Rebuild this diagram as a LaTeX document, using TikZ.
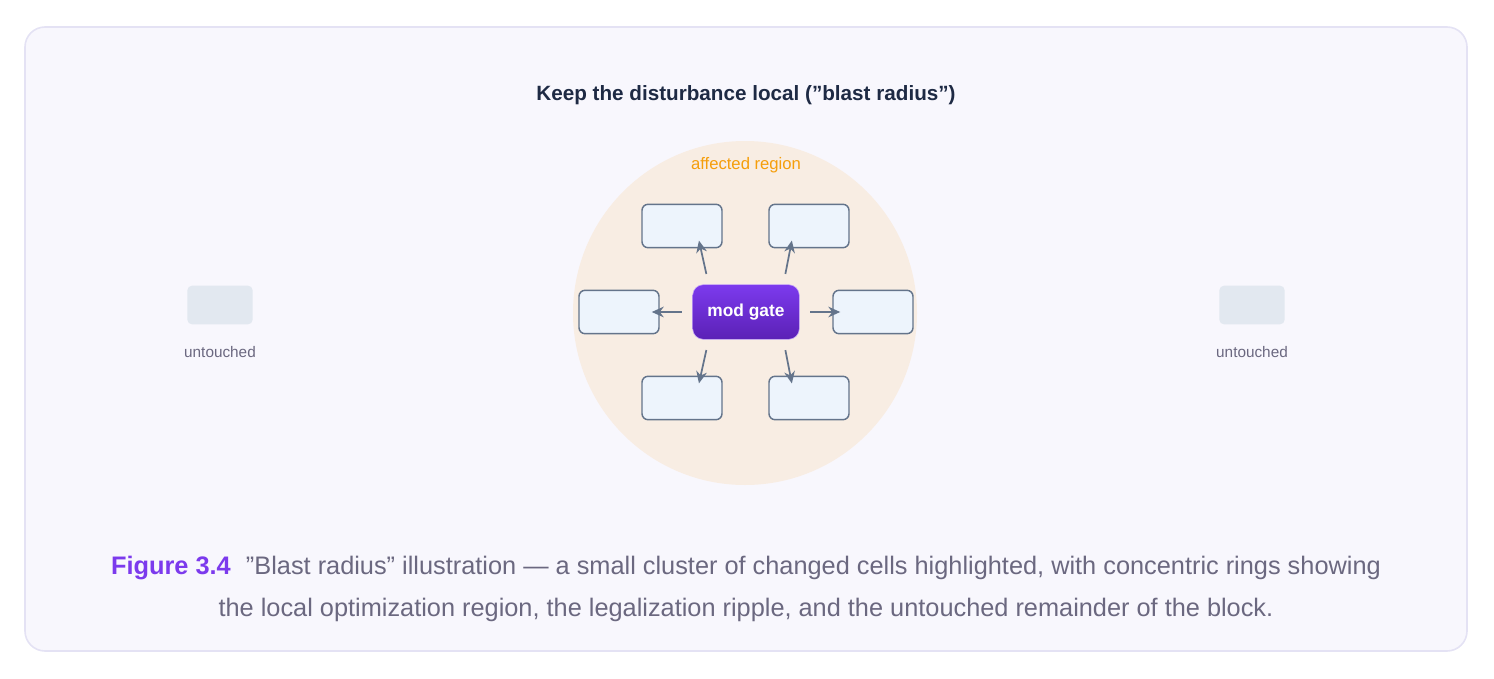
\documentclass[tikz,border=0pt]{standalone}
\usepackage{fontspec}
\setmainfont{Liberation Sans}
\usetikzlibrary{positioning,arrows.meta}
\definecolor{framebg}{HTML}{F8F7FD}
\definecolor{frameline}{HTML}{E4E2F4}
\definecolor{titlecol}{HTML}{1E2A44}
\definecolor{blastfill}{HTML}{F8EDE3}
\definecolor{orangecol}{HTML}{F59E0B}
\definecolor{cellfill}{HTML}{EDF4FC}
\definecolor{cellline}{HTML}{64748B}
\definecolor{gatetop}{HTML}{7C3AED}
\definecolor{gatebot}{HTML}{5B21B6}
\definecolor{restfill}{HTML}{E2E8F0}
\definecolor{graytext}{HTML}{6B6880}
\tikzset{
  cell/.style={rectangle,rounded corners=4.5pt,fill=cellfill,draw=cellline,line width=1.1pt,minimum width=60pt,minimum height=32.5pt},
  rest/.style={rectangle,rounded corners=3.5pt,fill=restfill,minimum width=49pt,minimum height=29pt},
  arrow/.style={-{Stealth[length=9pt,width=8pt]},draw=cellline,line width=1.3pt,shorten <=8pt,shorten >=-6pt}
}
\begin{document}
\begin{tikzpicture}[x=0.75pt,y=-0.75pt]
    \useasboundingbox (0,0) rectangle (1494,678);
    \draw[fill=framebg,draw=frameline,line width=1.2pt,rounded corners=15pt] (25,27) rectangle (1467,651);
    \node[font=\bfseries\fontsize{15.5}{18}\selectfont,text=titlecol] (title) at (746,95) {Keep the disturbance local ("blast radius")};

    \node[circle,fill=blastfill,minimum size=258pt,inner sep=0pt] (blast) at (745,313) {};
    \node[font=\fontsize{12.5}{15}\selectfont,text=orangecol] (blastlbl) at (746,165) {affected region};

    \node[rectangle,rounded corners=8pt,top color=gatetop,bottom color=gatebot,draw=gatetop!40,minimum width=80pt,minimum height=41pt,text=white,font=\bfseries\fontsize{13}{15}\selectfont] (gate) at (746,312) {mod gate};
    \node[cell] (cellTL) at (682,226) {};
    \node[cell] (cellTR) at (809,226) {};
    \node[cell] (cellL) at (619,312) {};
    \node[cell] (cellR) at (873,312) {};
    \node[cell] (cellBL) at (682,398) {};
    \node[cell] (cellBR) at (809,398) {};
    \draw[arrow] ([xshift=-28pt]gate.north) -- ([xshift=14pt]cellTL.south);
    \draw[arrow] ([xshift=28pt]gate.north) -- ([xshift=-14pt]cellTR.south);
    \draw[arrow] (gate.west) -- (cellL.east);
    \draw[arrow] (gate.east) -- (cellR.west);
    \draw[arrow] ([xshift=-28pt]gate.south) -- ([xshift=14pt]cellBL.north);
    \draw[arrow] ([xshift=28pt]gate.south) -- ([xshift=-14pt]cellBR.north);

    \node[rest] (restL) at (220,305) {};
    \node[text=graytext,font=\fontsize{11.5}{14}\selectfont] (restLlbl) at (220,352) {untouched};
    \node[rest] (restR) at (1252,305) {};
    \node[text=graytext,font=\fontsize{11.5}{14}\selectfont] (restRlbl) at (1252,352) {untouched};

    \node[align=center,text=graytext,font=\fontsize{19}{32}\selectfont] (caption) at (746,589)
      {{\color{gatetop}\bfseries Figure 3.4}\hspace{0.6em}"Blast radius" illustration — a small cluster of changed cells highlighted, with concentric rings showing\\
       the local optimization region, the legalization ripple, and the untouched remainder of the block.};
\end{tikzpicture}
\end{document}
